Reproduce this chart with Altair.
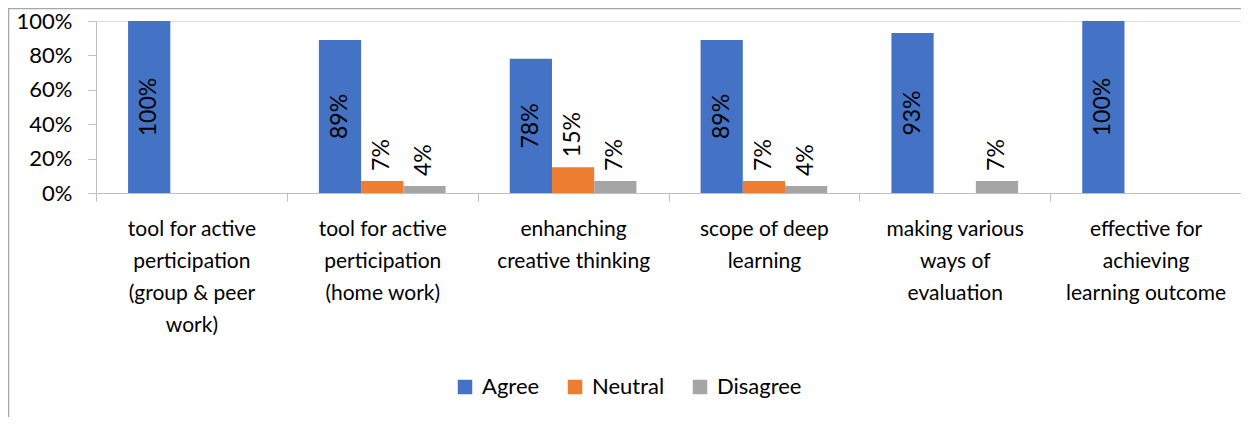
import altair as alt
import pandas as pd

categories = [
    "tool for active|perticipation|(group & peer|work)",
    "tool for active|perticipation|(home work)",
    "enhanching|creative thinking",
    "scope of deep|learning",
    "making various|ways of|evaluation",
    "effective for|achieving|learning outcome",
]
series = ["Agree", "Neutral", "Disagree"]
agree = [1.00, 0.89, 0.78, 0.89, 0.93, 1.00]
neutral = [0.00, 0.07, 0.15, 0.07, 0.00, 0.00]
disagree = [0.00, 0.04, 0.07, 0.04, 0.07, 0.00]
colors = ["#4472C4", "#ED7D31", "#A5A5A5"]
y_ticks = [0, 0.2, 0.4, 0.6, 0.8, 1.0]

rows = []
for i, c in enumerate(categories):
    for s, vals in zip(series, [agree, neutral, disagree]):
        rows.append({"category": c, "series": s, "value": vals[i]})
df = pd.DataFrame(rows)

W, H = 1145, 172
FONT = "Lato"
AX = "#BFBFBF"

x_enc = alt.X(
    "category:N",
    sort=categories,
    scale=alt.Scale(paddingInner=0, paddingOuter=0),
    axis=alt.Axis(
        title=None, labelAngle=0, labelExpr="split(datum.label, '|')",
        labelFont=FONT, labelFontSize=21, labelLineHeight=32, labelColor="#000000",
        labelPadding=17, tickBand="extent", tickSize=8, tickColor=AX,
        domainColor=AX, labelLimit=0,
    ),
)
xoff = alt.XOffset(
    "series:N", sort=series,
    scale=alt.Scale(domain=series, paddingInner=0, paddingOuter=0.76),
)
y_scale = alt.Scale(domain=[0, 1], nice=False)
y_axis = alt.Axis(
    title=None, format=".0%", values=y_ticks, grid=False,
    labelFont=FONT, labelFontSize=22, labelColor="#000000",
    tickSize=8, tickColor=AX, domainColor=AX, labelPadding=16,
)
y_enc = alt.Y("value:Q", scale=y_scale, axis=y_axis)

base = alt.Chart(df)

bars = base.mark_bar().encode(
    x=x_enc, xOffset=xoff, y=y_enc,
    color=alt.Color(
        "series:N", sort=series,
        scale=alt.Scale(domain=series, range=colors),
        legend=alt.Legend(
            orient="none", legendX=358, legendY=355, direction="horizontal",
            title=None, symbolType="square", symbolSize=210, symbolStrokeWidth=0,
            labelFont=FONT, labelFontSize=22, labelColor="#000000",
            columnPadding=24, labelOffset=6, padding=0,
        ),
    ),
)

big_labels = base.transform_filter("datum.value >= 0.5").transform_calculate(
    mid="datum.value / 2"
).mark_text(
    angle=270, align="center", baseline="middle", font=FONT, fontSize=23, color="#000000"
).encode(
    x=x_enc, xOffset=xoff,
    y=alt.Y("mid:Q", scale=y_scale, axis=y_axis),
    text=alt.Text("value:Q", format=".0%"),
)

small_labels = base.transform_filter("datum.value > 0 && datum.value < 0.5").mark_text(
    angle=270, align="left", baseline="middle", font=FONT, fontSize=23,
    color="#000000", dx=10,
).encode(
    x=x_enc, xOffset=xoff,
    y=alt.Y("value:Q", scale=y_scale, axis=y_axis),
    text=alt.Text("value:Q", format=".0%"),
)

frame_data = alt.Data(values=[{"k": 1}])
frame_left = alt.Chart(frame_data).mark_rule(color="#A6A6A6", strokeWidth=1.5).encode(
    x=alt.value(-87.5), y=alt.value(-13), y2=alt.value(H + 224)
)
frame_top = alt.Chart(frame_data).mark_rule(color="#A6A6A6", strokeWidth=1.5).encode(
    x=alt.value(-88), x2=alt.value(W), y=alt.value(-12.5)
)

chart = alt.layer(frame_left, frame_top, bars, big_labels, small_labels).properties(
    width=W, height=H,
    autosize=alt.AutoSizeParams(type="none"),
    padding={"left": 88, "top": 13, "right": 0, "bottom": 224},
).configure_view(stroke=None).configure(background="white")

chart.save("out.html", embed_options={"renderer": "svg", "actions": False})
